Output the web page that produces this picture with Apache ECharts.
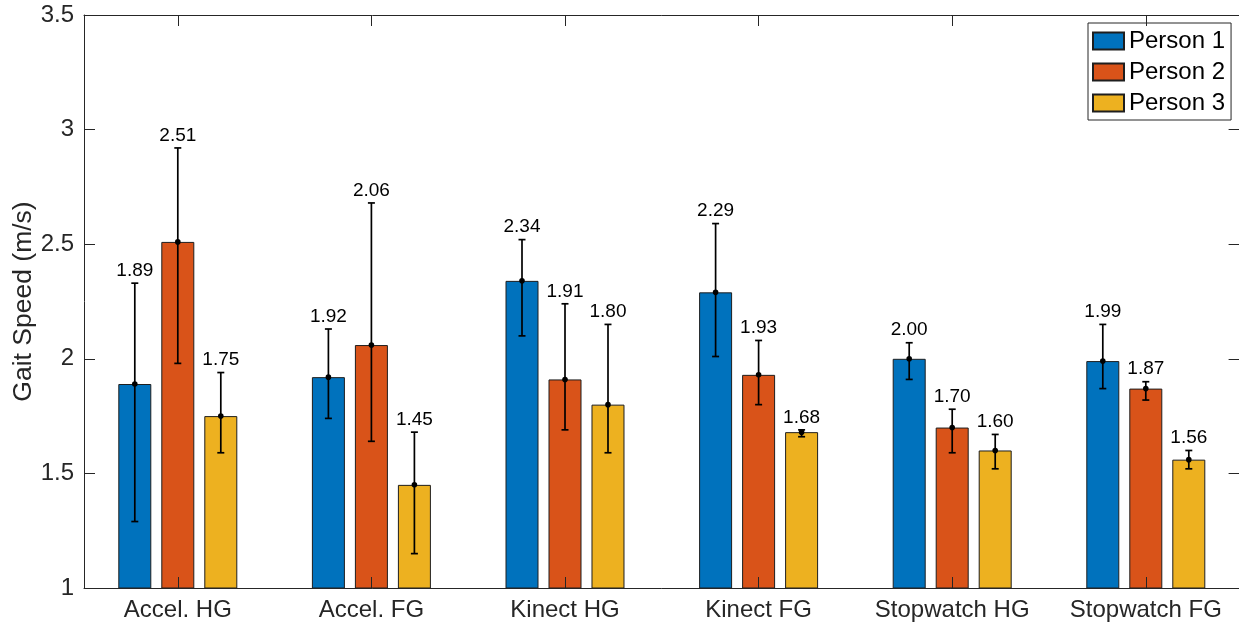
<!DOCTYPE html>
<html>
<head>
<meta charset="utf-8">
<title>Gait Speed</title>
<script src="https://cdn.jsdelivr.net/npm/echarts@6/dist/echarts.min.js"></script>
<style>
  html, body { margin: 0; padding: 0; background: #ffffff; }
  #chart { width: 1239px; height: 627px; }
</style>
</head>
<body>
<div id="chart"></div>
<script>
// Measurement methods on the x axis
const categories = ['Accel. HG', 'Accel. FG', 'Kinect HG', 'Kinect FG', 'Stopwatch HG', 'Stopwatch FG'];
const persons = ['Person 1', 'Person 2', 'Person 3'];

// Mean gait speed (m/s) per person
const person1Mean = [1.89, 1.92, 2.34, 2.29, 2.00, 1.99];
const person2Mean = [2.51, 2.06, 1.91, 1.93, 1.70, 1.87];
const person3Mean = [1.75, 1.45, 1.80, 1.68, 1.60, 1.56];

// Error bar bounds (lower / upper) per person
const person1Low  = [1.29, 1.74, 2.10, 2.01, 1.91, 1.87];
const person1High = [2.33, 2.13, 2.52, 2.59, 2.07, 2.15];
const person2Low  = [1.98, 1.64, 1.69, 1.80, 1.59, 1.82];
const person2High = [2.92, 2.68, 2.24, 2.08, 1.78, 1.90];
const person3Low  = [1.59, 1.15, 1.59, 1.66, 1.52, 1.52];
const person3High = [1.94, 1.68, 2.15, 1.69, 1.67, 1.60];

// Y axis range and tick step
const yMin = 1;
const yMax = 3.5;
const yStep = 0.5;

const means = [person1Mean, person2Mean, person3Mean];
const lows = [person1Low, person2Low, person3Low];
const highs = [person1High, person2High, person3High];
const colors = ['#0072BD', '#D95319', '#EDB120'];

const FONT = '"Liberation Sans", Arial, Helvetica, sans-serif';
const AXIS_COLOR = '#262626';
const BAR_WIDTH = 33;
const BAR_GAP = 10;

const chart = echarts.init(document.getElementById('chart'), null, { renderer: 'canvas' });

const barSeries = persons.map((name, k) => ({
  name: name,
  type: 'bar',
  xAxisIndex: 0,
  yAxisIndex: 0,
  data: means[k],
  barWidth: BAR_WIDTH,
  barGap: (BAR_GAP / BAR_WIDTH * 100).toFixed(1) + '%',
  itemStyle: { color: colors[k], borderColor: '#1e1e1e', borderWidth: 1 },
  z: 2
}));

const errorSeries = persons.map((name, k) => ({
  name: name + ' range',
  type: 'custom',
  xAxisIndex: 0,
  yAxisIndex: 0,
  z: 5,
  silent: true,
  clip: false,
  encode: { x: 0, y: [1, 2, 3] },
  data: categories.map((c, i) => [i, lows[k][i], highs[k][i], means[k][i]]),
  renderItem: function (params, api) {
    const idx = api.value(0);
    const lo = api.coord([idx, api.value(1)]);
    const hi = api.coord([idx, api.value(2)]);
    const mid = api.coord([idx, api.value(3)]);
    const x = lo[0] + (k - 1) * (BAR_WIDTH + BAR_GAP);
    const cap = 3.5;
    const stroke = { stroke: '#000', lineWidth: 1.7 };
    return {
      type: 'group',
      children: [
        { type: 'line', shape: { x1: x, y1: lo[1], x2: x, y2: hi[1] }, style: stroke },
        { type: 'line', shape: { x1: x - cap, y1: hi[1], x2: x + cap, y2: hi[1] }, style: stroke },
        { type: 'line', shape: { x1: x - cap, y1: lo[1], x2: x + cap, y2: lo[1] }, style: stroke },
        { type: 'circle', shape: { cx: x, cy: mid[1], r: 2.8 }, style: { fill: '#000' } },
        {
          type: 'text',
          style: {
            text: api.value(3).toFixed(2),
            x: x,
            y: hi[1] - 3,
            align: 'center',
            verticalAlign: 'bottom',
            fontSize: 19,
            fontFamily: FONT,
            fill: '#000'
          }
        }
      ]
    };
  }
}));

const frameX = (pos) => ({
  type: 'value', gridIndex: 1, position: pos, min: 0, max: 1,
  axisLine: { show: true, onZero: false, lineStyle: { color: AXIS_COLOR, width: 1 } },
  axisTick: { show: false }, axisLabel: { show: false }, splitLine: { show: false },
  z: 10
});

const catX = (pos, labels) => ({
  type: 'category', gridIndex: 0, position: pos, data: categories,
  axisLine: { show: false },
  axisTick: { show: true, inside: true, alignWithLabel: true, length: 11, interval: 0,
              lineStyle: { color: AXIS_COLOR, width: 1 } },
  axisLabel: { show: labels, interval: 0, hideOverlap: false, fontSize: 24, fontFamily: FONT,
               color: AXIS_COLOR, margin: 10 },
  splitLine: { show: false },
  z: 10
});

const frameY = (pos, labels) => ({
  type: 'value', gridIndex: 1, position: pos, min: yMin, max: yMax, interval: yStep,
  axisLine: { show: true, onZero: false, lineStyle: { color: AXIS_COLOR, width: 1 } },
  axisTick: { show: true, inside: true, length: 11, lineStyle: { color: AXIS_COLOR, width: 1 } },
  axisLabel: { show: labels, fontSize: 24, fontFamily: FONT, color: AXIS_COLOR, margin: 10 },
  splitLine: { show: false },
  z: 10
});

const option = {
  animation: false,
  backgroundColor: '#ffffff',
  textStyle: { fontFamily: FONT },
  grid: [
    // band layout for the grouped bars
    { left: 81, top: 15, width: 1161.6, height: 573, containLabel: false, outerBoundsMode: 'none' },
    // axes box
    { left: 84, top: 15, width: 1155.6, height: 573, containLabel: false, outerBoundsMode: 'none' }
  ],
  xAxis: [catX('bottom', true), catX('top', false), frameX('bottom'), frameX('top')],
  yAxis: [
    { type: 'value', gridIndex: 0, min: yMin, max: yMax, interval: yStep, show: false },
    Object.assign(frameY('left', true), {
      name: 'Gait Speed (m/s)',
      nameLocation: 'middle',
      nameGap: 47,
      nameMoveOverlap: false,
      nameTextStyle: { fontSize: 26.5, fontFamily: FONT, color: AXIS_COLOR }
    }),
    frameY('right', false)
  ],
  legend: {
    data: persons,
    orient: 'vertical',
    left: 1088,
    top: 23,
    padding: [6, 6, 5, 4],
    itemWidth: 31,
    itemHeight: 17,
    itemGap: 7,
    icon: 'rect',
    backgroundColor: '#ffffff',
    borderColor: AXIS_COLOR,
    borderWidth: 1,
    borderRadius: 0,
    textStyle: { fontSize: 24, fontFamily: FONT, color: '#000', lineHeight: 24 },
    selectedMode: false
  },
  series: barSeries.concat(errorSeries)
};

chart.setOption(option);
</script>
</body>
</html>
